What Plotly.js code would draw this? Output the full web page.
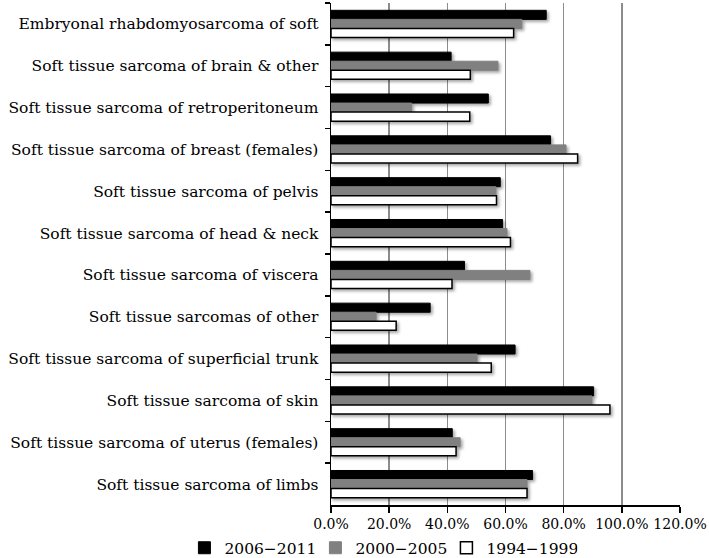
<!DOCTYPE html>
<html>
<head>
<meta charset="utf-8">
<script src="https://cdn.plot.ly/plotly-3.0.1.min.js"></script>
<style>html,body{margin:0;padding:0;background:#fff}#chart{width:709px;height:558px}
#chart .barlayer{filter:drop-shadow(2px 2px 1.5px rgba(0,0,0,0.35))}</style>
</head>
<body>
<div id="chart"></div>
<script>
var categories = [
  "Embryonal rhabdomyosarcoma of soft",
  "Soft tissue sarcoma of brain & other",
  "Soft tissue sarcoma of retroperitoneum",
  "Soft tissue sarcoma of breast (females)",
  "Soft tissue sarcoma of pelvis",
  "Soft tissue sarcoma of head & neck",
  "Soft tissue sarcoma of viscera",
  "Soft tissue sarcomas of other",
  "Soft tissue sarcoma of superficial trunk",
  "Soft tissue sarcoma of skin",
  "Soft tissue sarcoma of uterus (females)",
  "Soft tissue sarcoma of limbs"
];
var s2006_2011 = [0.740, 0.413, 0.541, 0.755, 0.582, 0.590, 0.459, 0.341, 0.633, 0.903, 0.417, 0.693];
var s2000_2005 = [0.656, 0.574, 0.277, 0.808, 0.567, 0.605, 0.684, 0.155, 0.502, 0.897, 0.444, 0.674];
var s1994_1999 = [0.628, 0.479, 0.477, 0.848, 0.569, 0.617, 0.416, 0.224, 0.551, 0.959, 0.430, 0.674];
var seriesNames = ["2006\u22122011", "2000\u22122005", "1994\u22121999"];
var xTicks = [0, 0.2, 0.4, 0.6, 0.8, 1.0, 1.2];

var traces = [
  {type:'bar', orientation:'h', y:categories, x:s2006_2011, name:seriesNames[0],
   marker:{color:'#000000', line:{color:'#000000', width:1}}},
  {type:'bar', orientation:'h', y:categories, x:s2000_2005, name:seriesNames[1],
   marker:{color:'#808080', line:{color:'#808080', width:1}}},
  {type:'bar', orientation:'h', y:categories, x:s1994_1999, name:seriesNames[2],
   marker:{color:'#ffffff', line:{color:'#000000', width:1.5}}}
];

var layout = {
  width:709, height:558,
  margin:{l:331, r:29, t:3, b:53, pad:0, autoexpand:false},
  paper_bgcolor:'#fff', plot_bgcolor:'#fff',
  barmode:'group', bargap:0.35, bargroupgap:0,
  font:{family:'"DejaVu Serif", serif', color:'#000'},
  showlegend:true,
  legend:{orientation:'h', x:-0.42, xanchor:'left',
          y:-0.086, yanchor:'middle', font:{size:15.5, family:'"DejaVu Serif", serif'},
          traceorder:'normal', itemwidth:30, tracegroupgap:0, entrywidth:86, entrywidthmode:'pixels'},
  xaxis:{range:[0,1.2], tickvals:xTicks, tickformat:'.1%', showgrid:true, gridcolor:'#8c8c8c', gridwidth:1.5,
         showline:true, linecolor:'#000', linewidth:1.5, ticks:'outside', ticklen:6, tickcolor:'#000', tickwidth:1.5,
         tickfont:{size:14}, zeroline:false, fixedrange:true, automargin:false},
  yaxis:{type:'category', autorange:'reversed', tickson:'boundaries', ticks:'outside', ticklen:5,
         tickcolor:'#000', tickwidth:1.5, showline:true, linecolor:'#000', linewidth:1.5,
         showgrid:false, tickfont:{size:15.5}, ticklabelstandoff:8, fixedrange:true, automargin:false}
};
Plotly.newPlot('chart', traces, layout, {displayModeBar:false, staticPlot:true});
</script>
</body>
</html>
